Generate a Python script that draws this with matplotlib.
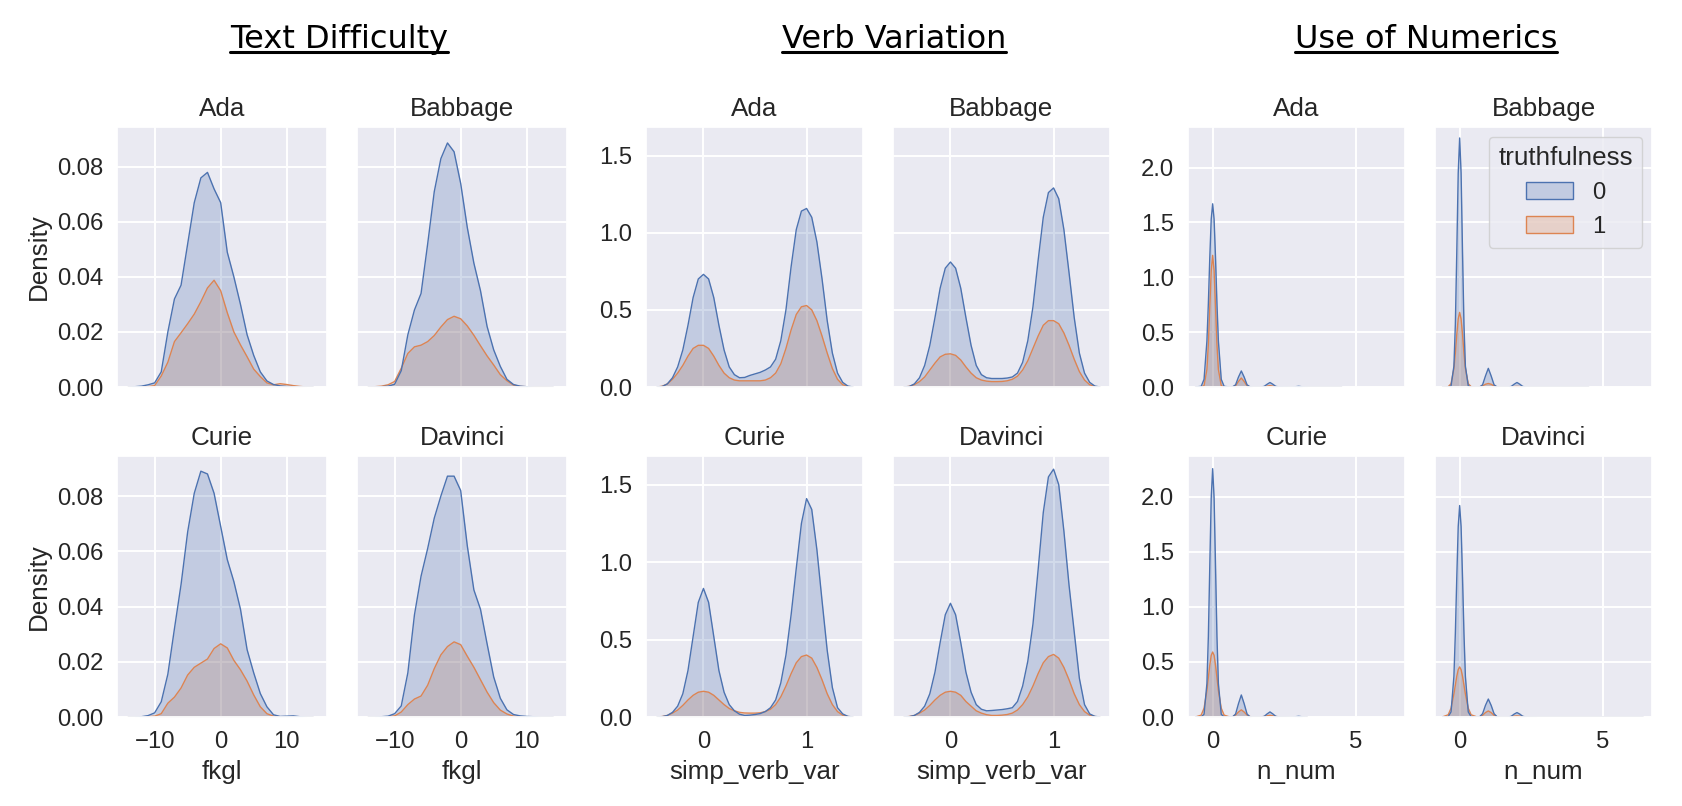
import numpy as np
import matplotlib.pyplot as plt
import seaborn as sns
from matplotlib.patches import Patch
from matplotlib.lines import Line2D

# ---- data (density curves per model / truthfulness) ----
models = ["Ada", "Babbage", "Curie", "Davinci"]
hue_labels = ["0", "1"]
group_titles = ["Text Difficulty", "Verb Variation", "Use of Numerics"]
x_labels = ["fkgl", "simp_verb_var", "n_num"]

# Text difficulty (fkgl)
fkgl_x = list(range(-14, 15))
fkgl_ada_0 = [0, 0.0001, 0.0003, 0.0008, 0.0015, 0.0055, 0.020, 0.032, 0.037, 0.052, 0.067, 0.076, 0.078, 0.072,
              0.067, 0.049, 0.040, 0.030, 0.019, 0.0115, 0.0055, 0.0022, 0.0009, 0.0004, 0.0002, 0.0001, 0, 0, 0]
fkgl_ada_1 = [0, 0, 0, 0.0001, 0.0005, 0.004, 0.009, 0.0165, 0.0197, 0.023, 0.0265, 0.031, 0.036, 0.0388,
              0.035, 0.027, 0.020, 0.0153, 0.011, 0.0065, 0.0038, 0.0015, 0.0008, 0.0012, 0.0009, 0.0005, 0.0002, 0, 0]
fkgl_babbage_0 = [0, 0, 0.0001, 0.0003, 0.001, 0.0059, 0.019, 0.028, 0.034, 0.052, 0.071, 0.083, 0.0887, 0.0855,
                  0.074, 0.058, 0.045, 0.035, 0.022, 0.0135, 0.0075, 0.0028, 0.0009, 0.0003, 0.0001, 0, 0, 0, 0]
fkgl_babbage_1 = [0, 0.0001, 0.0003, 0.0008, 0.002, 0.0068, 0.0122, 0.0146, 0.0152, 0.0165, 0.0187, 0.0218, 0.0245,
                  0.0257, 0.0248, 0.0222, 0.0188, 0.015, 0.0113, 0.008, 0.0045, 0.0023, 0.0007, 0.0002, 0.0001,
                  0.0001, 0.0001, 0.0001, 0]
fkgl_curie_0 = [0, 0, 0.0001, 0.0005, 0.0015, 0.0055, 0.0155, 0.032, 0.048, 0.067, 0.081, 0.089, 0.088, 0.081,
                0.069, 0.057, 0.049, 0.039, 0.0244, 0.016, 0.0085, 0.0037, 0.0008, 0.0002, 0.0003, 0.0004, 0.0001, 0, 0]
fkgl_curie_1 = [0, 0, 0, 0.0001, 0.0003, 0.0012, 0.005, 0.0072, 0.0105, 0.0152, 0.018, 0.0195, 0.021, 0.0248,
                0.0265, 0.025, 0.0205, 0.0171, 0.013, 0.008, 0.0037, 0.0012, 0.0003, 0.0001, 0, 0, 0, 0, 0]
fkgl_davinci_0 = [0, 0, 0.0001, 0.0003, 0.0012, 0.004, 0.016, 0.037, 0.051, 0.061, 0.072, 0.080, 0.0872, 0.0872,
                  0.082, 0.062, 0.046, 0.039, 0.0265, 0.0145, 0.0068, 0.0026, 0.0009, 0.0004, 0.0002, 0.0001, 0, 0, 0]
fkgl_davinci_1 = [0, 0, 0, 0.0001, 0.0004, 0.0018, 0.0045, 0.0065, 0.0076, 0.0115, 0.0175, 0.0225, 0.0255, 0.0272,
                  0.0262, 0.022, 0.018, 0.0135, 0.009, 0.0052, 0.0025, 0.0011, 0.0003, 0.0001, 0, 0, 0, 0, 0]

# Verb variation (simp_verb_var)
verb_x = [-0.45, -0.40, -0.35, -0.30, -0.25, -0.20, -0.15, -0.10, -0.05, 0.00, 0.05, 0.10, 0.15, 0.20, 0.25,
          0.30, 0.35, 0.40, 0.45, 0.50, 0.55, 0.60, 0.65, 0.70, 0.75, 0.80, 0.85, 0.90, 0.95, 1.00, 1.05, 1.10,
          1.15, 1.20, 1.25, 1.30, 1.35, 1.40, 1.45]
verb_ada_0 = [0, 0.003, 0.02, 0.06, 0.13, 0.24, 0.40, 0.58, 0.70, 0.73, 0.70, 0.58, 0.40, 0.24, 0.13, 0.08, 0.06,
              0.062, 0.075, 0.085, 0.095, 0.11, 0.13, 0.18, 0.30, 0.50, 0.78, 1.02, 1.14, 1.157, 1.10, 0.94, 0.70,
              0.43, 0.22, 0.09, 0.03, 0.006, 0]
verb_ada_1 = [0, 0.005, 0.02, 0.05, 0.09, 0.14, 0.20, 0.25, 0.27, 0.27, 0.25, 0.20, 0.14, 0.09, 0.06, 0.045, 0.04,
              0.04, 0.04, 0.04, 0.04, 0.045, 0.06, 0.09, 0.15, 0.25, 0.37, 0.47, 0.52, 0.528, 0.50, 0.43, 0.33,
              0.22, 0.12, 0.05, 0.015, 0.003, 0]
verb_babbage_0 = [0, 0.003, 0.02, 0.06, 0.14, 0.27, 0.45, 0.64, 0.77, 0.81, 0.77, 0.64, 0.45, 0.27, 0.14, 0.08,
                  0.06, 0.055, 0.055, 0.055, 0.058, 0.065, 0.09, 0.16, 0.30, 0.52, 0.82, 1.10, 1.26, 1.29, 1.22,
                  1.02, 0.74, 0.45, 0.22, 0.09, 0.03, 0.006, 0]
verb_babbage_1 = [0, 0.004, 0.015, 0.035, 0.065, 0.11, 0.155, 0.195, 0.212, 0.215, 0.205, 0.175, 0.13, 0.09, 0.06,
                  0.045, 0.038, 0.035, 0.035, 0.036, 0.04, 0.05, 0.07, 0.11, 0.17, 0.25, 0.33, 0.40, 0.43, 0.43,
                  0.41, 0.35, 0.27, 0.18, 0.10, 0.045, 0.015, 0.003, 0]
verb_curie_0 = [0, 0.002, 0.01, 0.03, 0.07, 0.15, 0.30, 0.52, 0.74, 0.83, 0.74, 0.52, 0.30, 0.16, 0.08, 0.04, 0.018,
                0.01, 0.012, 0.016, 0.022, 0.035, 0.06, 0.11, 0.22, 0.40, 0.66, 0.96, 1.25, 1.41, 1.34, 1.08, 0.75,
                0.43, 0.19, 0.06, 0.02, 0.004, 0]
verb_curie_1 = [0, 0.003, 0.01, 0.025, 0.045, 0.075, 0.11, 0.14, 0.16, 0.166, 0.16, 0.14, 0.11, 0.08, 0.055, 0.04,
                0.03, 0.026, 0.025, 0.025, 0.027, 0.035, 0.05, 0.08, 0.13, 0.20, 0.28, 0.35, 0.39, 0.40, 0.38, 0.32,
                0.24, 0.15, 0.08, 0.035, 0.012, 0.003, 0]
verb_davinci_0 = [0, 0.002, 0.01, 0.03, 0.07, 0.15, 0.29, 0.48, 0.66, 0.734, 0.66, 0.48, 0.29, 0.16, 0.08, 0.05,
                  0.04, 0.042, 0.045, 0.048, 0.053, 0.06, 0.10, 0.20, 0.36, 0.60, 0.95, 1.32, 1.55, 1.60, 1.50, 1.20,
                  0.85, 0.55, 0.25, 0.08, 0.02, 0.004, 0]
verb_davinci_1 = [0, 0.003, 0.01, 0.025, 0.045, 0.075, 0.11, 0.14, 0.16, 0.166, 0.16, 0.14, 0.10, 0.07, 0.04, 0.025,
                  0.015, 0.01, 0.01, 0.012, 0.016, 0.025, 0.045, 0.08, 0.13, 0.20, 0.28, 0.35, 0.39, 0.404, 0.38,
                  0.32, 0.24, 0.15, 0.08, 0.035, 0.012, 0.003, 0]

# Use of numerics (n_num)
num_x = [-0.6, -0.4, -0.3, -0.2, -0.15, -0.1, -0.05, 0, 0.05, 0.1, 0.15, 0.2, 0.3, 0.4, 0.6, 0.7, 0.8, 0.9, 1.0,
         1.1, 1.2, 1.3, 1.4, 1.7, 1.8, 1.9, 2.0, 2.1, 2.2, 2.3, 2.7, 2.85, 3.0, 3.15, 3.3, 4.0, 4.5, 5.0, 6.0, 6.4]
num_ada_0 = [0, 0.006, 0.07, 0.42, 0.76, 1.18, 1.53, 1.67, 1.53, 1.18, 0.76, 0.42, 0.07, 0.006, 0, 0.002, 0.02, 0.09,
             0.146, 0.09, 0.02, 0.002, 0, 0, 0.006, 0.025, 0.041, 0.025, 0.006, 0.001, 0, 0.001, 0.006, 0.001, 0,
             0, 0, 0, 0, 0]
num_ada_1 = [0, 0, 0.013, 0.16, 0.39, 0.73, 1.06, 1.20, 1.06, 0.73, 0.39, 0.16, 0.013, 0, 0, 0, 0.011, 0.05, 0.082,
             0.05, 0.011, 0.001, 0, 0, 0.002, 0.008, 0.012, 0.008, 0.002, 0, 0, 0, 0, 0, 0, 0, 0, 0, 0, 0]
num_babbage_0 = [0, 0, 0.01, 0.19, 0.57, 1.23, 1.95, 2.27, 1.95, 1.23, 0.57, 0.19, 0.01, 0, 0, 0, 0.02, 0.10, 0.17,
                 0.10, 0.02, 0.001, 0, 0, 0.005, 0.025, 0.041, 0.025, 0.005, 0, 0, 0, 0, 0, 0, 0, 0, 0, 0, 0]
num_babbage_1 = [0, 0.003, 0.03, 0.17, 0.31, 0.48, 0.62, 0.68, 0.62, 0.48, 0.31, 0.17, 0.03, 0.003, 0, 0.002, 0.01,
                 0.025, 0.032, 0.025, 0.01, 0.002, 0, 0, 0.001, 0.004, 0.005, 0.004, 0.001, 0, 0, 0, 0, 0, 0, 0, 0,
                 0, 0, 0]
num_curie_0 = [0, 0.001, 0.025, 0.305, 0.73, 1.37, 1.99, 2.255, 1.99, 1.37, 0.73, 0.305, 0.025, 0.001, 0, 0.002,
               0.027, 0.12, 0.20, 0.12, 0.027, 0.002, 0, 0, 0.006, 0.028, 0.046, 0.028, 0.006, 0.001, 0, 0.001,
               0.006, 0.001, 0, 0, 0, 0, 0, 0]
num_curie_1 = [0, 0.017, 0.08, 0.24, 0.36, 0.47, 0.56, 0.59, 0.56, 0.47, 0.36, 0.24, 0.08, 0.017, 0, 0.002, 0.018,
               0.045, 0.065, 0.045, 0.018, 0.004, 0, 0.001, 0.005, 0.011, 0.015, 0.011, 0.005, 0.001, 0, 0, 0, 0, 0,
               0, 0, 0, 0, 0]
num_davinci_0 = [0, 0.003, 0.046, 0.37, 0.76, 1.27, 1.73, 1.92, 1.73, 1.27, 0.76, 0.37, 0.046, 0.003, 0, 0.003, 0.03,
                 0.105, 0.163, 0.105, 0.03, 0.003, 0, 0, 0.006, 0.026, 0.04, 0.026, 0.006, 0.001, 0, 0, 0, 0, 0, 0,
                 0, 0, 0, 0]
num_davinci_1 = [0.001, 0.02, 0.08, 0.21, 0.29, 0.37, 0.43, 0.455, 0.43, 0.37, 0.29, 0.21, 0.08, 0.02, 0.001, 0.003,
                 0.015, 0.04, 0.055, 0.04, 0.015, 0.003, 0, 0.001, 0.004, 0.008, 0.01, 0.008, 0.004, 0.001, 0, 0, 0,
                 0, 0, 0, 0, 0, 0, 0]
num_support_end = [4.5, 4.5, 3.3, 6.4]  # where each n_num curve stops

groups = [
    (fkgl_x, [(fkgl_ada_0, fkgl_ada_1), (fkgl_babbage_0, fkgl_babbage_1),
              (fkgl_curie_0, fkgl_curie_1), (fkgl_davinci_0, fkgl_davinci_1)]),
    (verb_x, [(verb_ada_0, verb_ada_1), (verb_babbage_0, verb_babbage_1),
              (verb_curie_0, verb_curie_1), (verb_davinci_0, verb_davinci_1)]),
    (num_x, [(num_ada_0, num_ada_1), (num_babbage_0, num_babbage_1),
             (num_curie_0, num_curie_1), (num_davinci_0, num_davinci_1)]),
]

# ---- style ----
sns.set_theme(style="darkgrid")
plt.rcParams['font.family'] = ['Liberation Sans', 'DejaVu Sans']
colors = sns.color_palette("deep")[:2]

W, H = 1682, 806
fig = plt.figure(figsize=(W / 100, H / 100), dpi=100)

# axes boxes in pixels: (left of first column, left of second column, width)
col_px = [(117, 357, 210), (646, 893, 217), (1188, 1435, 217)]
row_px = [(127, 260), (456, 261)]  # (top, height)
xlims = [(-15.7, 16.1), (-0.557, 1.547), (-0.86, 6.71)]
ylims = [(0, 0.0945), (0, 1.685), (0, 2.37)]
title_x = [339, 894, 1426]

for g, (xs, curves) in enumerate(groups):
    xs = np.array(xs, dtype=float)
    for k, model in enumerate(models):
        r, c = divmod(k, 2)
        left = col_px[g][c]
        top, h = row_px[r]
        ax = fig.add_axes([left / W, 1 - (top + h) / H, col_px[g][2] / W, h / H])
        keep = np.ones_like(xs, dtype=bool)
        if g == 2:
            keep = xs <= num_support_end[k]
        # seaborn draws later hue levels first
        for j in (1, 0):
            ys = np.array(curves[k][j], dtype=float)
            ax.fill_between(xs[keep], ys[keep], color=colors[j], alpha=0.25, lw=0)
            ax.plot(xs[keep], ys[keep], color=colors[j], lw=1.0)
        ax.set_xlim(*xlims[g])
        ax.set_ylim(*ylims[g])
        ax.set_title(model, fontsize=18.7, pad=8)
        ax.tick_params(labelsize=17.2, length=0, pad=10)
        ax.grid(True, color="white", lw=1.4)
        if g == 2:
            ax.set_xticks([0, 5])
        if g == 1:
            ax.set_xticks([0, 1])
        if r == 0:
            ax.set_xticklabels([])
        else:
            ax.set_xlabel(x_labels[g], fontsize=18.7, labelpad=5)
        if c == 1:
            ax.set_yticklabels([])
        elif g == 0:
            ax.set_ylabel("Density", fontsize=18.7)
        if g == 2 and k == 1:
            handles = [Patch(facecolor=(*colors[i], 0.25), edgecolor=colors[i], lw=1.0) for i in range(2)]
            leg = ax.legend(handles, hue_labels, title="truthfulness", loc="upper right",
                            fontsize=17.2, title_fontsize=18.7, handlelength=2.0, borderaxespad=0.4)

# underlined section titles
texts = []
for g, t in enumerate(group_titles):
    texts.append(fig.text(title_x[g] / W, 1 - 48 / H, t, ha="center", va="baseline",
                          fontsize=23, family="DejaVu Sans", color="black"))
fig.canvas.draw()
for t in texts:
    bb = t.get_window_extent()
    y = 1 - 52 / H
    fig.add_artist(Line2D([bb.x0 / W, bb.x1 / W], [y, y], transform=fig.transFigure,
                          color="black", lw=2.2))

fig.savefig("out.png", dpi=100)
